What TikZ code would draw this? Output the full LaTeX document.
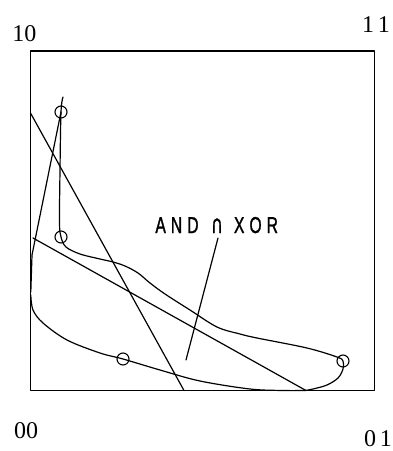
\documentclass[tikz,border=0pt]{standalone}
\usepackage{fontspec}
\usepackage{graphicx}
\setmainfont{Liberation Serif}
\newfontfamily\labfont[FakeStretch=0.68,LetterSpace=22,FakeBold=1.2]{Liberation Sans}
\newfontfamily\capfont[FakeBold=1.2]{DejaVu Sans}
\begin{document}
\begin{tikzpicture}[x=1pt,y=-1pt,line width=1.2pt,line join=round,line cap=round,
  dot/.style={circle,draw,minimum size=12pt,inner sep=0pt,line width=1.1pt},
  corner/.style={font=\fontsize{24}{24}\selectfont,inner sep=0pt},
  tag/.style={font=\labfont\fontsize{23}{23}\selectfont,inner sep=0pt,anchor=base}]
\useasboundingbox (0,0) rectangle (393,451);
% frame
\draw (30.5,51) rectangle (374.5,390.5);
% corner labels
\node[corner] (l10) at (24.5,33.5) {10};
\node[corner] (l11) at (376,25) {1\,1};
\node[corner] (l00) at (26,431) {00};
\node[corner] (l01) at (378,439) {0\,1};
% circles
\node[dot] (c1) at (61,112) {};
\node[dot] (c2) at (61,237) {};
\node[dot] (c3) at (343,361) {};
\node[dot] (c4) at (123,359) {};
% straight lines
\coordinate (a1) at (30.5,113);
\coordinate (a2) at (184,390.5);
\draw (a1) -- (a2);
\coordinate (b1) at (33,238);
\coordinate (b2) at (306,390.5);
\draw (b1) -- (b2);
% closed region curve
\coordinate (e1) at (30.8,292);
\coordinate (e2) at (32,255);
\draw (e1) -- (e2) -- (c1.center);
\draw plot[smooth,tension=0.55] coordinates {(63,97) (61,112) (60,170) (59.5,222) (61,237) (66,247) (80,254) (100,259) (113,262) (125,266) (138,273) (150,283) (165,294) (190,310) (217,327) (240,334) (257,338) (307,348) (337,357) (343,361) (343,369) (338,378) (327,385) (313,389) (305,390.5)};
\draw plot[smooth,tension=0.55] coordinates {(305,390.5) (283,390.5) (250,389) (200,381) (160,370) (123,359) (100,353) (67,340) (43,323) (33,310) (30.8,295)};
% label and leader
\node[tag] (tand) at (177,233) {AND};
\node[tag,font=\capfont\fontsize{23}{23}\selectfont] (t) at (217,233) {\scalebox{0.7}[1.1]{∩}};
\node[tag] (txor) at (256,233) {XOR};
\coordinate (la) at (218,238);
\coordinate (lb) at (186,360);
\draw (la) -- (lb);
\end{tikzpicture}
\end{document}
